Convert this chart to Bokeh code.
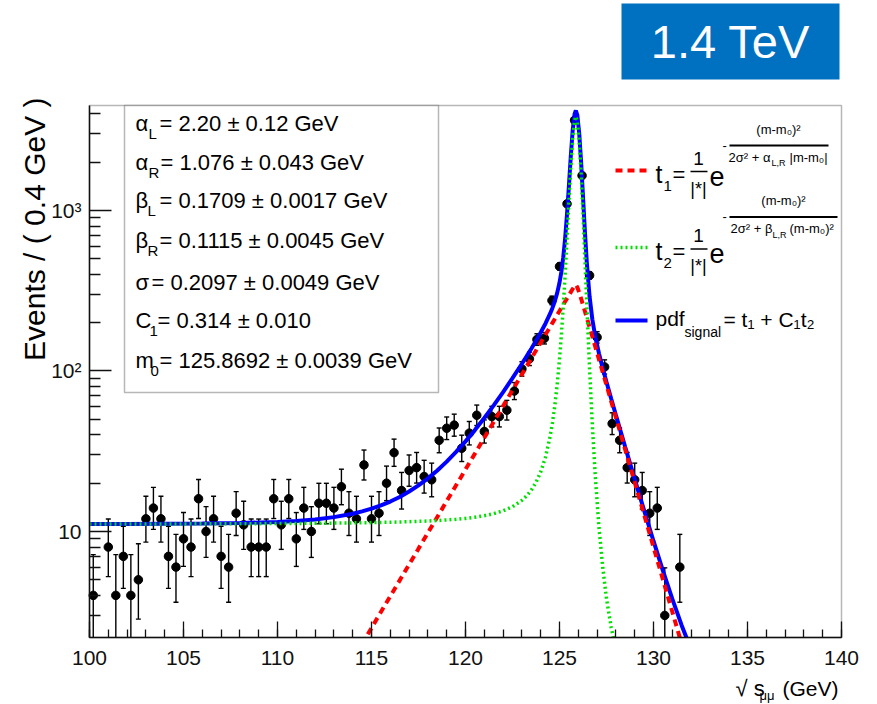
import math
from bokeh.plotting import figure
from bokeh.models import (ColumnDataSource, FixedTicker, Label, BoxAnnotation, Arrow, Range1d,
                          LinearAxis, LogAxis)
from bokeh.embed import file_html
from bokeh.resources import INLINE

# ---------------- data ----------------
bin_centers = [100.2, 101.0, 101.4, 101.8, 102.2, 102.6, 103.0, 103.4, 103.8, 104.2,
               104.6, 105.0, 105.4, 105.8, 106.2, 106.6, 107.0, 107.4, 107.8, 108.2,
               108.6, 109.0, 109.4, 109.8, 110.2, 110.6, 111.0, 111.4, 111.8, 112.2,
               112.6, 113.0, 113.4, 113.8, 114.2, 114.6, 115.0, 115.4, 115.8, 116.2,
               116.6, 117.0, 117.4, 117.8, 118.2, 118.6, 119.0, 119.4, 119.8, 120.2,
               120.6, 121.0, 121.4, 121.8, 122.2, 122.6, 123.0, 123.4, 123.8, 124.2,
               124.6, 125.0, 125.4, 125.8, 126.2, 126.6, 127.0, 127.4, 127.8, 128.2,
               128.6, 129.0, 129.4, 129.8, 130.2, 130.6, 131.4]
counts = [4, 8, 4, 7, 4, 5, 12, 14, 12, 7,
          6, 9, 8, 16, 10, 12, 7, 6, 13, 11,
          8, 8, 8, 16, 11, 16, 9, 14, 10, 15,
          15, 14, 19, 13, 12, 26, 12, 13, 20, 31,
          18, 24, 25, 22, 21, 37, 44, 46, 33, 41,
          53, 42, 52, 52, 57, 75, 103, 119, 157, 160,
          275, 448, 1100, 3650, 1650, 394, 162, 106, 47, 37,
          25, 21, 18, 13, 14, 3, 6]

curve_mass = [100.0, 102.0, 104.0, 106.0, 108.0, 110.0, 111.0, 112.0, 113.0, 114.0,
              114.5, 115.0, 115.5, 116.0, 116.5, 117.0, 117.5, 118.0, 118.5, 119.0,
              119.5, 120.0, 120.5, 121.0, 121.5, 122.0, 122.5, 123.0, 123.25, 123.5,
              123.75, 124.0, 124.25, 124.5, 124.625, 124.75, 124.875, 125.0, 125.1, 125.2,
              125.3, 125.4, 125.5, 125.6, 125.7, 125.8, 125.87, 125.95, 126.05, 126.15,
              126.25, 126.35, 126.45, 126.6, 126.75, 126.9, 127.1, 127.3, 127.5, 127.75,
              128.0, 128.5, 129.0, 129.5, 130.0, 130.5, 131.0, 131.5, 132.0]
curve_t1 = [0.003, 0.007, 0.017, 0.042, 0.104, 0.258, 0.407, 0.642, 1.013, 1.593,
            2.0, 2.505, 3.153, 3.953, 4.962, 6.23, 7.82, 9.81, 12.31, 15.46,
            19.40, 24.35, 30.56, 38.4, 48.16, 60.48, 75.9, 95.29, 106.7, 119.6,
            134.0, 150.1, 168.2, 188.4, 199.4, 211.0, 223.4, 236.4, 247.4, 258.8,
            270.8, 283.3, 296.4, 310.0, 324.1, 338.1, 345.0, 332.5, 307.5, 282.1,
            258.0, 235.7, 215.1, 187.4, 163.3, 142.1, 118.1, 98.15, 81.53, 64.65,
            51.27, 32.23, 20.26, 12.73, 8.0, 5.03, 3.16, 1.99, 1.25]
curve_t2 = [11.13, 11.14, 11.15, 11.16, 11.18, 11.21, 11.23, 11.25, 11.28, 11.32,
            11.34, 11.36, 11.39, 11.42, 11.46, 11.51, 11.56, 11.62, 11.70, 11.80,
            11.92, 12.07, 12.27, 12.54, 12.92, 13.46, 14.27, 15.62, 16.66, 18.10,
            20.2, 23.46, 28.91, 39.01, 47.61, 60.77, 81.97, 118.3, 167.8, 252.1,
            399.7, 664.4, 1123.0, 1863.0, 2821.0, 3643.0, 3850.0, 3582.0, 2702.0, 1711.0,
            961.0, 507.0, 263.7, 103.5, 45.27, 22.45, 10.59, 5.96, 3.82, 2.52,
            1.85, 1.23, 0.956, 0.813, 0.728, 0.674, 0.636, 0.609, 0.589]
curve_pdf = [11.13, 11.14, 11.17, 11.20, 11.29, 11.47, 11.64, 11.89, 12.29, 12.91,
             13.34, 13.87, 14.54, 15.37, 16.42, 17.74, 19.38, 21.43, 24.01, 27.26,
             31.32, 36.42, 42.83, 50.94, 61.08, 73.94, 90.17, 110.9, 123.4, 137.7,
             154.2, 173.6, 197.1, 227.4, 247.0, 271.8, 305.4, 354.7, 415.2, 510.9,
             670.5, 947.7, 1419.0, 2173.0, 3145.0, 3981.0, 4195.0, 3914.0, 3010.0, 1993.0,
             1219.0, 742.7, 478.8, 290.9, 208.6, 164.6, 128.7, 104.1, 85.35, 67.17,
             53.12, 33.46, 21.21, 13.54, 8.73, 5.70, 3.80, 2.60, 1.84]

x_limits = (100.0, 140.0)
y_limits = (2.186, 4508.0)
x_ticks = [100, 105, 110, 115, 120, 125, 130, 135, 140]
x_minor_ticks = list(range(100, 141))
y_ticks = [10, 100, 1000]
y_minor_ticks = [m * 10 ** e for e in range(0, 4) for m in range(2, 10)
                 if y_limits[0] <= m * 10 ** e <= y_limits[1]]
y_tick_labels = {10: "10", 100: "10²", 1000: "10³"}

param_symbols = ["α", "α", "β", "β", "σ", "C", "m"]
param_subs = ["L", "R", "L", "R", "", "1", "0"]
param_values = ["= 2.20 ± 0.12 GeV", "= 1.076 ± 0.043 GeV", "= 0.1709 ± 0.0017 GeV",
                "= 0.1115 ± 0.0045 GeV", "= 0.2097 ± 0.0049 GeV", "= 0.314 ± 0.010",
                "= 125.8692 ± 0.0039 GeV"]

# ---------------- geometry (page pixels) ----------------
W, H = 877, 704
FL, FT, FR, FB = 89, 105, 841, 637          # plot-area box on the page
FONT = "Liberation Sans"

# ranges chosen so that the plot area lands on the page box above
px_per_gev = (FR - FL) / (x_limits[1] - x_limits[0])
xr = Range1d(x_limits[0] - FL / px_per_gev, x_limits[1] + (W - FR) / px_per_gev)
ly0, ly1 = math.log10(y_limits[0]), math.log10(y_limits[1])
dec_per_px = (ly1 - ly0) / (FB - FT)
yr = Range1d(10 ** (ly0 - (H - FB) * dec_per_px), 10 ** (ly1 + FT * dec_per_px))


def sx(X):
    return X


def sy(Y):
    return H - Y


def lab(p, text, X, Y, size, align="left", color="black", baseline="middle", angle=0):
    p.add_layout(Label(x=sx(X), y=sy(Y), x_units="screen", y_units="screen", text=text,
                       text_font=FONT, text_font_size=f"{size}px", text_color=color,
                       text_align=align, text_baseline=baseline, angle=angle))


def seg(p, X0, X1, Y, color="black", width=1.5, dash="solid"):
    p.add_layout(Arrow(x_start=sx(X0), y_start=sy(Y), x_end=sx(X1), y_end=sy(Y),
                       start_units="screen", end_units="screen", start=None, end=None,
                       line_color=color, line_width=width, line_dash=dash))


# error bars (Poisson 68% intervals, Gehrels approximation)
err_hi = [n + 1.0 + math.sqrt(n + 0.75) for n in counts]
err_lo = [n * (1 - 1 / (9 * n) - 1 / (3 * math.sqrt(n))) ** 3 for n in counts]

data_src = ColumnDataSource(dict(x=bin_centers, y=counts, lo=err_lo, hi=err_hi))
curve_src = ColumnDataSource(dict(x=curve_mass, t1=curve_t1, t2=curve_t2, pdf=curve_pdf))

p = figure(width=W, height=H, y_axis_type="log", x_range=xr, y_range=yr,
           x_axis_location=None, y_axis_location=None,
           output_backend="svg", toolbar_location=None, min_border=0)
p.background_fill_color = "white"
p.border_fill_color = "white"
p.outline_line_color = None
p.grid.visible = False

# data points with error bars
p.segment(x0="x", y0="lo", x1="x", y1="hi", source=data_src, line_color="black", line_width=1.4)
p.scatter(x="x", y="hi", source=data_src, marker="dash", size=5, line_color="black", line_width=1.4)
p.scatter(x="x", y="lo", source=data_src, marker="dash", size=5, line_color="black", line_width=1.4)
p.scatter(x="x", y="y", source=data_src, marker="circle", size=8.5, fill_color="black", line_color="black")

# fitted curves
p.line(x="x", y="pdf", source=curve_src, line_color="#0000ff", line_width=4)
p.line(x="x", y="t1", source=curve_src, line_color="#ff0000", line_width=4, line_dash="7 5")
p.line(x="x", y="t2", source=curve_src, line_color="#00e000", line_width=3.5, line_dash="2 3")

# white mask below the plot area (hides what falls under the axis minimum)
p.add_layout(BoxAnnotation(left=xr.start, right=xr.end, bottom=yr.start, top=y_limits[0],
                           fill_color="white", fill_alpha=1.0, line_alpha=0, level="glyph"))

# axes, drawn at the edges of the plot area
xaxis = LinearAxis(fixed_location=y_limits[0], bounds=x_limits,
                   ticker=FixedTicker(ticks=x_ticks, minor_ticks=x_minor_ticks))
yaxis = LogAxis(fixed_location=x_limits[0], bounds=y_limits,
                ticker=FixedTicker(ticks=y_ticks, minor_ticks=y_minor_ticks))
yaxis.major_label_overrides = y_tick_labels
p.add_layout(xaxis, "below")
p.add_layout(yaxis, "left")
xaxis.major_tick_in = 16
xaxis.minor_tick_in = 8
xaxis.major_label_standoff = 13
yaxis.major_tick_in = 22
yaxis.minor_tick_in = 11
yaxis.major_label_standoff = 8
for ax in (xaxis, yaxis):
    ax.major_tick_out = 0
    ax.minor_tick_out = 0
    ax.axis_line_color = "#111111"
    ax.axis_line_width = 1.5
    ax.major_tick_line_color = "#111111"
    ax.minor_tick_line_color = "#111111"
    ax.major_tick_line_width = 1.3
    ax.minor_tick_line_width = 1.3
    ax.major_label_text_font = FONT
    ax.major_label_text_font_size = "21px"
    ax.major_label_text_color = "#111111"

# plot-area frame
p.add_layout(BoxAnnotation(left=x_limits[0], right=x_limits[1], bottom=y_limits[0], top=y_limits[1],
                           fill_alpha=0, line_color="#111111", line_width=1.5))

# parameter box
p.add_layout(BoxAnnotation(left=sx(124), right=sx(438), top=sy(FT), bottom=sy(392),
                           left_units="screen", right_units="screen", top_units="screen",
                           bottom_units="screen", fill_color="white", fill_alpha=1.0,
                           line_color="#111111", line_width=1.5))
row_y = [123, 162, 200, 240, 282, 320, 360]
sub_x = [148, 148, 147, 147, 0, 149, 150]
val_x = [159, 160, 159, 159, 151, 157, 159]
for i in range(len(param_symbols)):
    lab(p, param_symbols[i], 135, row_y[i], 22)
    if param_subs[i]:
        lab(p, param_subs[i], sub_x[i], row_y[i] + 10, 15)
    lab(p, param_values[i], val_x[i], row_y[i], 22)

# right-hand legend
seg(p, 615, 647, 170, color="#ff0000", width=4, dash="7 5")
lab(p, "t", 655, 173, 25)
lab(p, "1", 663, 185, 15)
lab(p, "=", 672, 174, 22)
lab(p, "1", 698, 158, 19, align="center")
seg(p, 690, 707, 171)
lab(p, "|*|", 698, 188, 18, align="center")
lab(p, "e", 709, 176, 27)
lab(p, "-", 722, 145, 13)
lab(p, "(m-m₀)²", 778, 129, 13, align="center")
seg(p, 729, 828, 145, width=1.8)
lab(p, "2σ² + α", 728, 157, 13)
lab(p, "L,R", 771, 162, 9)
lab(p, "|m-m₀|", 789, 157, 13)

seg(p, 615, 647, 247, color="#00e000", width=3.5, dash="2 3")
lab(p, "t", 655, 250, 25)
lab(p, "2", 663, 262, 15)
lab(p, "=", 672, 251, 22)
lab(p, "1", 698, 235, 19, align="center")
seg(p, 690, 707, 248.5)
lab(p, "|*|", 698, 265, 18, align="center")
lab(p, "e", 709, 253, 27)
lab(p, "-", 722, 216, 13)
lab(p, "(m-m₀)²", 783, 200, 13, align="center")
seg(p, 729, 837, 216.5, width=1.8)
lab(p, "2σ² + β", 730, 228, 13)
lab(p, "L,R", 772, 234, 9)
lab(p, "(m-m₀)²", 789, 228, 13)

seg(p, 615, 647, 320, color="#0000ff", width=4)
lab(p, "pdf", 655, 318, 21)
lab(p, "signal", 684, 331, 14)
lab(p, "= t₁ + C₁t₂", 723, 319, 21)

# axis titles
lab(p, "√ s", 735, 688, 22)
lab(p, "μμ", 759, 695, 13)
lab(p, "(GeV)", 838, 688, 21, align="right")
lab(p, "Events / ( 0.4 GeV )", 34, 97, 30, align="right", angle=math.pi / 2)

# energy tag
p.add_layout(BoxAnnotation(left=sx(621), right=sx(839), top=sy(3), bottom=sy(79),
                           left_units="screen", right_units="screen", top_units="screen",
                           bottom_units="screen", fill_color="#0070c0", fill_alpha=1.0,
                           line_alpha=0))
lab(p, "1.4 TeV", 730, 41, 47, align="center", color="white")

open("out.html", "w").write(file_html(p, INLINE))
